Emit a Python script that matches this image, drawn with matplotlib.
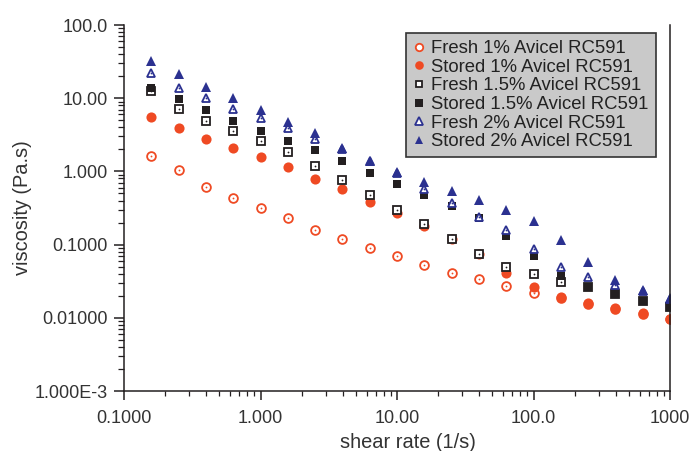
import matplotlib
matplotlib.use("Agg")
import matplotlib.pyplot as plt
from matplotlib.ticker import FixedLocator, FixedFormatter, LogLocator, NullFormatter

plt.rcParams['font.family'] = ['Liberation Sans', 'DejaVu Sans']

shear_rate = [0.158, 0.251, 0.398, 0.631, 1.0, 1.58, 2.51, 3.98, 6.31, 10.0,
              15.8, 25.1, 39.8, 63.1, 100.0, 158, 251, 398, 631, 1000]

fresh_1 = [1.62, 1.045, 0.618, 0.433, 0.313, 0.229, 0.160, 0.119, 0.0907, 0.0698,
           0.0532, 0.0414, 0.0336, 0.0272, 0.0220, 0.0185, 0.0155, 0.0133, 0.0113, 0.0095]
stored_1 = [5.6, 3.95, 2.74, 2.07, 1.56, 1.14, 0.787, 0.575, 0.386, 0.267,
            0.180, 0.119, 0.0735, 0.0414, 0.0266, 0.0192, 0.0158, 0.0135, 0.0115, 0.0096]
fresh_15 = [12.5, 7.05, 4.93, 3.60, 2.60, 1.82, 1.19, 0.755, 0.476, 0.297,
            0.191, 0.119, 0.0744, 0.0500, 0.0397, 0.0305, 0.0262, 0.0209, 0.0170, 0.0142]
stored_15 = [13.9, 9.75, 6.83, 4.93, 3.60, 2.60, 1.96, 1.39, 0.96, 0.67,
             0.476, 0.337, 0.229, 0.132, 0.0698, 0.0375, 0.0265, 0.0210, 0.0170, 0.0142]
fresh_2 = [22.3, 13.9, 10.2, 7.12, 5.30, 3.88, 2.80, 2.02, 1.38, 0.95,
           0.569, 0.374, 0.240, 0.158, 0.087, 0.049, 0.0357, 0.0280, 0.0235, 0.0182]
stored_2 = [32.5, 21.4, 14.4, 10.2, 6.90, 4.78, 3.38, 2.07, 1.40, 0.99,
            0.724, 0.545, 0.407, 0.297, 0.212, 0.1156, 0.0580, 0.0324, 0.0240, 0.0185]

labels = ["Fresh 1% Avicel RC591", "Stored 1% Avicel RC591",
          "Fresh 1.5% Avicel RC591", "Stored 1.5% Avicel RC591",
          "Fresh 2% Avicel RC591", "Stored 2% Avicel RC591"]

y_ticks = [1e-3, 1e-2, 1e-1, 1, 10, 100]
y_tick_labels = ["1.000E-3", "0.01000", "0.1000", "1.000", "10.00", "100.0"]
x_ticks = [0.1, 1, 10, 100, 1000]
x_tick_labels = ["0.1000", "1.000", "10.00", "100.0", "1000"]

ORANGE = "#ef4a23"
BLACK = "#231f20"
NAVY = "#2b3190"

fig = plt.figure(figsize=(6.92, 4.51), dpi=100)
ax = fig.add_axes([124/692, 1-391/451, (670-124)/692, (391-25)/451])

ms = 6.3
series = [
    (fresh_1, ORANGE, dict(marker='o', mfc='white', mec=ORANGE, mew=1.3, ms=ms)),
    (stored_1, None, dict(marker='o', mfc=ORANGE, mec=ORANGE, mew=0, ms=ms + 1)),
    (fresh_15, BLACK, dict(marker='s', mfc='white', mec=BLACK, mew=1.3, ms=ms - 0.8)),
    (stored_15, None, dict(marker='s', mfc=BLACK, mec=BLACK, mew=0, ms=ms)),
    (fresh_2, NAVY, dict(marker='^', mfc='white', mec=NAVY, mew=1.3, ms=ms)),
    (stored_2, None, dict(marker='^', mfc=NAVY, mec=NAVY, mew=0, ms=ms + 1.2)),
]
for (vals, dotc, st), lab in zip(series, labels):
    ax.plot(shear_rate, vals, linestyle='none', label=lab, **st)
    if dotc is not None:
        ax.plot(shear_rate, vals, linestyle='none', marker='o', ms=1.3,
                mfc=dotc, mec='none', label='_nolegend_')

ax.set_xscale('log')
ax.set_yscale('log')
ax.set_xlim(0.1, 1000)
ax.set_ylim(1e-3, 100)

ax.xaxis.set_major_locator(FixedLocator(x_ticks))
ax.xaxis.set_major_formatter(FixedFormatter(x_tick_labels))
ax.yaxis.set_major_locator(FixedLocator(y_ticks))
ax.yaxis.set_major_formatter(FixedFormatter(y_tick_labels))
ax.xaxis.set_minor_locator(LogLocator(base=10, subs=range(2, 10)))
ax.yaxis.set_minor_locator(LogLocator(base=10, subs=range(2, 10)))
ax.xaxis.set_minor_formatter(NullFormatter())
ax.yaxis.set_minor_formatter(NullFormatter())

for s in ['left', 'bottom', 'right']:
    ax.spines[s].set_linewidth(1.1)
    ax.spines[s].set_color(BLACK)
ax.spines['top'].set_visible(False)

ax.tick_params(axis='y', which='major', direction='out', length=7.5, width=1.1,
               labelsize=13, pad=4.3, colors=BLACK, labelcolor='#333333')
ax.tick_params(axis='y', which='minor', direction='out', length=4, width=0.9, colors=BLACK)
ax.tick_params(axis='x', which='major', direction='out', length=6.3, width=1.1,
               labelsize=13, pad=7.5, colors=BLACK, labelcolor='#333333')
ax.tick_params(axis='x', which='minor', direction='out', length=3.6, width=0.9, colors=BLACK)
ax.tick_params(right=False, which='both')

ax.set_xlabel("shear rate (1/s)", fontsize=14.4, color='#333333', labelpad=4)
ax.xaxis.label.set_x(0.52)
ax.set_ylabel("viscosity (Pa.s)", fontsize=14.4, color='#333333', labelpad=1.5)

leg = ax.legend(loc='upper left', bbox_to_anchor=((406-124)/546, (391-33)/366),
                fontsize=13.3, frameon=True, fancybox=False, framealpha=1,
                facecolor='#c9c9c9', edgecolor='#333333', handlelength=0.6,
                handletextpad=0.4, labelspacing=0.09, borderpad=0.38,
                borderaxespad=0, markerscale=0.85)
leg.get_frame().set_linewidth(1.2)
for t in leg.get_texts():
    t.set_color('#222222')

fig.savefig("out.png", dpi=100)
